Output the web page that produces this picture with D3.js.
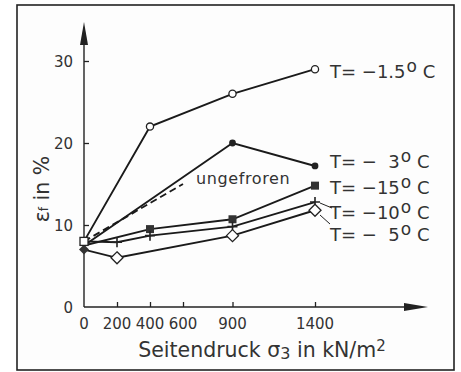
<!DOCTYPE html>
<html>
<head>
<meta charset="utf-8">
<script src="https://cdn.jsdelivr.net/npm/d3@7"></script>
<style>
  body { margin: 0; background: #fff; }
  text { font-family: "DejaVu Sans", sans-serif; fill: #333; }
</style>
</head>
<body>
<svg id="chart" width="461" height="372"></svg>
<script>
"use strict";

// data (x = Seitendruck in kN/m2, y = eps_f in %)
const xTicks = [0, 200, 400, 600, 900, 1400];
const yTicks = [0, 10, 20, 30];

const t15x = [0, 400, 900, 1400];          // T = -1.5 C, open circles
const t15y = [8, 22, 26, 29];
const t3x = [0, 900, 1400];                // T = -3 C, filled circles
const t3y = [7.5, 20, 17.2];
const t15cx = [0, 400, 900, 1400];         // T = -15 C, filled squares
const t15cy = [7.5, 9.5, 10.7, 14.8];
const t10x = [0, 200, 400, 900, 1400];     // T = -10 C, plus
const t10y = [8, 7.9, 8.7, 9.8, 12.8];
const t5x = [0, 200, 900, 1400];           // T = -5 C, open diamonds
const t5y = [7, 6, 8.7, 11.8];
const ungefX = [0, 600];                   // ungefroren, dashed
const ungefY = [8, 15];
const originOpenSquare = [0, 8];
const originFilledDiamond = [0, 7];

const zip = (xs, ys) => xs.map((x, i) => [x, ys[i]]);

const svg = d3.select("#chart");

// frame
svg.append("rect")
  .attr("x", 17).attr("y", 5).attr("width", 437).attr("height", 365)
  .attr("fill", "#fdfdfd").attr("stroke", "#222").attr("stroke-width", 1.6);

const x = d3.scaleLinear().domain([0, 1400]).range([84, 315]);
const y = d3.scaleLinear().domain([0, 30]).range([307, 61]);

const g = svg.append("g");

// axes with inward ticks
const xAxis = g.append("g")
  .attr("transform", `translate(0,${y(0)})`)
  .call(d3.axisTop(x).tickValues(xTicks.slice(1)).tickSize(5).tickFormat(""));
const yAxis = g.append("g")
  .attr("transform", `translate(${x(0)},0)`)
  .call(d3.axisRight(y).tickValues(yTicks.slice(1)).tickSize(5).tickFormat(""));
[xAxis, yAxis].forEach(a => {
  a.select(".domain").remove();
  a.selectAll("line").attr("stroke", "#222").attr("stroke-width", 1.3);
});

// axis lines with arrows
g.append("line").attr("x1", x(0)).attr("y1", y(0)).attr("x2", 420).attr("y2", y(0))
  .attr("stroke", "#222").attr("stroke-width", 1.4);
g.append("path").attr("d", `M428,${y(0)} L404,${y(0) - 4} L404,${y(0) + 4} Z`).attr("fill", "#222");
g.append("line").attr("x1", x(0)).attr("y1", y(0)).attr("x2", x(0)).attr("y2", 30)
  .attr("stroke", "#222").attr("stroke-width", 1.4);
g.append("path").attr("d", `M${x(0)},22 L${x(0) - 4},45 L${x(0) + 4},45 Z`).attr("fill", "#222");

// tick labels
g.selectAll(".xl").data(xTicks).enter().append("text")
  .attr("x", d => x(d)).attr("y", 329)
  .attr("text-anchor", "middle").attr("font-size", 15)
  .text(d => d);
g.selectAll(".yl").data(yTicks).enter().append("text")
  .attr("x", 73).attr("y", d => y(d) + 5.5)
  .attr("text-anchor", "end").attr("font-size", 15)
  .text(d => d);

// axis titles
g.append("text").attr("x", 262).attr("y", 357).attr("text-anchor", "middle")
  .attr("font-size", 20.5)
  .html('Seitendruck σ<tspan font-size="16" dy="2">3</tspan><tspan dy="-2"> in kN/m</tspan><tspan font-size="15" dy="-6">2</tspan>');
g.append("text").attr("transform", "translate(49,189) rotate(-90)")
  .attr("text-anchor", "middle").attr("font-size", 20.5)
  .html('ε<tspan font-size="12" dy="-1">f</tspan><tspan dy="1"> in %</tspan>');

const line = d3.line().x(d => x(d[0])).y(d => y(d[1]));
const drawLine = (pts, dash) => g.append("path").datum(pts).attr("d", line)
  .attr("fill", "none").attr("stroke", "#1a1a1a").attr("stroke-width", 1.9)
  .attr("stroke-dasharray", dash || null);

drawLine(zip(ungefX, ungefY), "7,4");
drawLine(zip(t15x, t15y));
drawLine(zip(t3x, t3y));
drawLine(zip(t15cx, t15cy));
drawLine(zip(t10x, t10y));
drawLine(zip(t5x, t5y));

// markers (skip the 0 point, drawn as origin markers)
g.selectAll(".c15").data(zip(t15x, t15y).slice(1)).enter().append("circle")
  .attr("cx", d => x(d[0])).attr("cy", d => y(d[1])).attr("r", 3.6)
  .attr("fill", "#fff").attr("stroke", "#222").attr("stroke-width", 1.3);
g.selectAll(".c3").data(zip(t3x, t3y).slice(1)).enter().append("circle")
  .attr("cx", d => x(d[0])).attr("cy", d => y(d[1])).attr("r", 3.4)
  .attr("fill", "#222");
g.selectAll(".s15").data(zip(t15cx, t15cy).slice(1)).enter().append("rect")
  .attr("x", d => x(d[0]) - 4).attr("y", d => y(d[1]) - 4).attr("width", 8).attr("height", 8)
  .attr("fill", "#333");
g.selectAll(".p10").data(zip(t10x, t10y).slice(1)).enter().append("path")
  .attr("d", d => `M${x(d[0]) - 5},${y(d[1])} h10 M${x(d[0])},${y(d[1]) - 5} v10`)
  .attr("stroke", "#222").attr("stroke-width", 1.6);
g.selectAll(".d5").data(zip(t5x, t5y).slice(1)).enter().append("path")
  .attr("d", d => `M${x(d[0])},${y(d[1]) - 6} l6,6 l-6,6 l-6,-6 Z`)
  .attr("fill", "#fff").attr("stroke", "#222").attr("stroke-width", 1.3);

// origin markers
g.append("path")
  .attr("d", `M${x(originFilledDiamond[0])},${y(originFilledDiamond[1]) - 5} l5,5 l-5,5 l-5,-5 Z`)
  .attr("fill", "#333");
g.append("rect")
  .attr("x", x(originOpenSquare[0]) - 4).attr("y", y(originOpenSquare[1]) - 4)
  .attr("width", 8).attr("height", 8)
  .attr("fill", "#fff").attr("stroke", "#222").attr("stroke-width", 1.3);

// series labels: [temperature text, baseline]
const labels = [
  ["\u22121.5", 78],
  ["\u2212  3", 168],
  ["\u221215", 194],
  ["\u221210", 219],
  ["\u2212  5", 241]
];
const lab = g.selectAll(".lab").data(labels).enter().append("text")
  .attr("x", 330).attr("y", d => d[1]).attr("font-size", 18)
  .attr("xml:space", "preserve").style("white-space", "pre");
lab.append("tspan").text(d => "T= " + d[0]);
lab.append("tspan").attr("font-size", 17).attr("dy", -6).attr("dx", 1).text("o");
lab.append("tspan").attr("dy", 6).text(" C");

// leader lines
g.append("line").attr("x1", 320).attr("y1", 203).attr("x2", 332).attr("y2", 208)
  .attr("stroke", "#222").attr("stroke-width", 1);
g.append("line").attr("x1", 320).attr("y1", 215).attr("x2", 330).attr("y2", 224)
  .attr("stroke", "#222").attr("stroke-width", 1);

g.append("text").attr("x", 196).attr("y", 184).attr("font-size", 16)
  .attr("letter-spacing", 0.6).text("ungefroren");
</script>
</body>
</html>
